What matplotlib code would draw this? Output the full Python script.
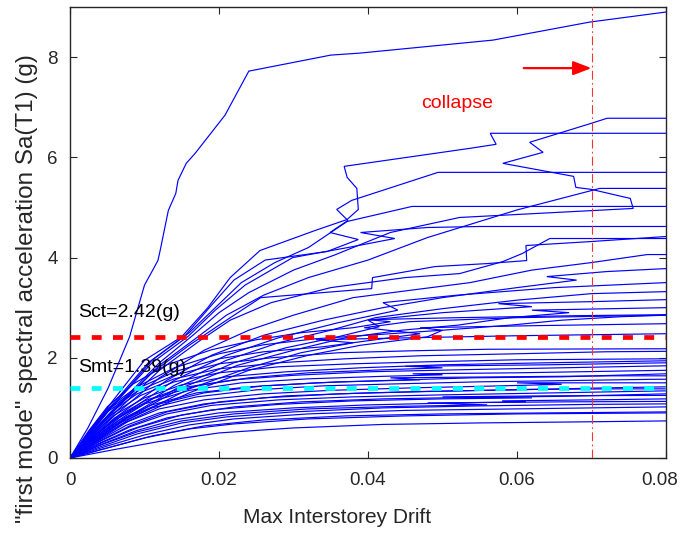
import matplotlib
matplotlib.use("Agg")
import matplotlib.pyplot as plt
import matplotlib.transforms as mtransforms

plt.rcParams['font.family'] = ['Liberation Sans', 'DejaVu Sans']

# IDA records: (max interstorey drift, Sa(T1) [g]) pairs, Sa increasing along each record
rec_steep = [(0, 0), (0.0024, 0.6), (0.0051, 1.39), (0.0080, 2.42), (0.0100, 3.45), (0.0118, 3.94),
             (0.0121, 4.14), (0.0132, 4.94), (0.0142, 5.28), (0.0145, 5.54), (0.0156, 5.88),
             (0.0168, 6.08), (0.0208, 6.84), (0.0240, 7.72), (0.0350, 8.04), (0.0389, 8.08),
             (0.0568, 8.34), (0.0698, 8.70), (0.0800, 8.90), (0.0850, 8.98)]
rec_u1 = [(0, 0), (0.005, 1.0), (0.010, 1.95), (0.0150, 2.42), (0.0185, 3.0), (0.0215, 3.6),
          (0.0255, 4.14), (0.0329, 4.54), (0.0372, 4.76), (0.0387, 4.96), (0.0385, 5.38),
          (0.0372, 5.6), (0.0368, 5.82), (0.0537, 6.18), (0.0572, 6.26), (0.0564, 6.48), (0.09, 6.48)]
rec_u2 = [(0, 0), (0.005, 0.95), (0.0105, 1.9), (0.0155, 2.45), (0.0190, 3.05), (0.0220, 3.55),
          (0.0262, 3.95), (0.0345, 4.12), (0.0387, 4.36), (0.0349, 4.5), (0.0373, 4.74),
          (0.0358, 4.96), (0.0378, 5.14), (0.0494, 5.70), (0.09, 5.70)]
rec_u3 = [(0, 0), (0.0055, 1.0), (0.011, 1.95), (0.0160, 2.5), (0.0195, 3.0), (0.0230, 3.5),
          (0.0275, 3.9), (0.0320, 4.2), (0.0372, 4.72), (0.0459, 5.02), (0.09, 5.02)]
rec_u4 = [(0, 0), (0.006, 1.0), (0.012, 1.9), (0.0165, 2.45), (0.0200, 2.9), (0.0240, 3.3),
          (0.0300, 3.75), (0.0355, 4.05), (0.0430, 4.5), (0.0523, 4.8), (0.0756, 4.98),
          (0.0752, 5.18), (0.0700, 5.36), (0.0679, 5.4), (0.0676, 5.62), (0.0581, 5.88),
          (0.0635, 6.1), (0.0617, 6.3), (0.0700, 6.68), (0.0721, 6.78), (0.09, 6.78)]
rec_u5 = [(0, 0), (0.006, 0.95), (0.012, 1.85), (0.0170, 2.4), (0.0210, 2.85), (0.0260, 3.25),
          (0.0320, 3.6), (0.0400, 3.95), (0.0480, 4.4), (0.0600, 4.95), (0.0711, 5.38), (0.09, 5.38)]
rec_u6 = [(0, 0), (0.006, 0.9), (0.012, 1.75), (0.0175, 2.35), (0.0215, 2.75), (0.0270, 3.1),
          (0.0350, 3.4), (0.0450, 3.6), (0.0523, 3.68), (0.0581, 3.92), (0.0607, 4.08),
          (0.0644, 4.38), (0.09, 4.38)]
rec_u7 = [(0, 0), (0.0055, 1.0), (0.011, 1.9), (0.0158, 2.42), (0.0195, 2.95), (0.0235, 3.45),
          (0.0299, 4.0), (0.0373, 4.2), (0.0436, 4.38), (0.0390, 4.5), (0.0480, 4.6),
          (0.0550, 4.62), (0.09, 4.62)]

rec_m1 = [(0, 0), (0.0055, 0.9), (0.011, 1.7), (0.016, 2.25), (0.0205, 2.7), (0.0256, 3.2),
          (0.0405, 3.38), (0.0406, 3.6), (0.0490, 3.82), (0.0560, 3.88), (0.0613, 3.94),
          (0.0612, 4.24), (0.0700, 4.32), (0.0800, 4.42), (0.09, 4.45)]
rec_m2 = [(0, 0), (0.006, 0.85), (0.012, 1.6), (0.018, 2.15), (0.024, 2.55), (0.030, 2.85),
          (0.038, 3.2), (0.0537, 3.5), (0.0620, 3.75), (0.0700, 3.9), (0.0775, 4.06), (0.09, 4.06)]
rec_m3 = [(0, 0), (0.0065, 0.85), (0.013, 1.55), (0.019, 2.05), (0.026, 2.45), (0.034, 2.75),
          (0.042, 3.0), (0.050, 3.2), (0.060, 3.4), (0.0680, 3.55), (0.0640, 3.62),
          (0.0720, 3.72), (0.0800, 3.78), (0.09, 3.8)]
rec_m4 = [(0, 0), (0.007, 0.85), (0.014, 1.55), (0.021, 2.05), (0.028, 2.4), (0.036, 2.7),
          (0.0440, 2.95), (0.0420, 3.1), (0.0520, 3.25), (0.0650, 3.4), (0.0800, 3.5), (0.09, 3.5)]
rec_m5 = [(0, 0), (0.007, 0.8), (0.014, 1.45), (0.021, 1.95), (0.028, 2.3), (0.035, 2.55),
          (0.0410, 2.8), (0.0500, 2.98), (0.0600, 3.15), (0.0700, 3.28), (0.0800, 3.32), (0.09, 3.35)]
rec_m6 = [(0, 0), (0.0075, 0.8), (0.015, 1.45), (0.022, 1.9), (0.029, 2.2), (0.0360, 2.42),
          (0.0415, 2.62), (0.0400, 2.75), (0.0500, 2.9), (0.0620, 3.02), (0.0575, 3.08),
          (0.0700, 3.12), (0.0800, 3.16), (0.09, 3.16)]
rec_m7 = [(0, 0), (0.0075, 0.78), (0.015, 1.4), (0.0225, 1.85), (0.030, 2.15), (0.037, 2.4),
          (0.0445, 2.55), (0.0520, 2.65), (0.0590, 2.8), (0.0670, 2.9), (0.0620, 2.95),
          (0.0800, 3.0), (0.09, 3.0)]
rec_m8 = [(0, 0), (0.008, 0.78), (0.016, 1.38), (0.024, 1.8), (0.031, 2.1), (0.038, 2.3),
          (0.0470, 2.48), (0.0395, 2.6), (0.0455, 2.72), (0.0600, 2.8), (0.0800, 2.85), (0.09, 2.86)]
rec_m9 = [(0, 0), (0.008, 0.75), (0.016, 1.3), (0.024, 1.75), (0.032, 2.05), (0.0390, 2.25),
          (0.0480, 2.42), (0.0500, 2.55), (0.0590, 2.65), (0.0660, 2.75), (0.0740, 2.82),
          (0.0800, 2.85), (0.09, 2.9)]

rec_l01 = [(0, 0), (0.006, 0.17), (0.012, 0.33), (0.020, 0.50), (0.030, 0.6), (0.042, 0.67),
           (0.055, 0.7), (0.068, 0.72), (0.080, 0.74), (0.09, 0.75)]
rec_l02 = [(0, 0), (0.005, 0.2), (0.010, 0.4), (0.016, 0.58), (0.022, 0.68), (0.032, 0.78),
           (0.045, 0.84), (0.060, 0.88), (0.080, 0.9), (0.09, 0.9)]
rec_l03 = [(0, 0), (0.005, 0.24), (0.010, 0.46), (0.016, 0.66), (0.022, 0.78), (0.032, 0.88),
           (0.045, 0.95), (0.060, 0.98), (0.070, 1.0), (0.080, 1.02), (0.09, 1.02)]
rec_l04 = [(0, 0), (0.004, 0.22), (0.009, 0.48), (0.015, 0.7), (0.021, 0.82), (0.030, 0.92),
           (0.042, 1.0), (0.055, 1.04), (0.070, 1.07), (0.080, 1.08), (0.09, 1.08)]
rec_l05 = [(0, 0), (0.004, 0.26), (0.009, 0.55), (0.014, 0.76), (0.020, 0.9), (0.030, 1.0),
           (0.040, 1.06), (0.052, 1.1), (0.0612, 1.12), (0.0580, 1.14), (0.0700, 1.16),
           (0.080, 1.18), (0.09, 1.18)]
rec_l06 = [(0, 0), (0.004, 0.3), (0.008, 0.56), (0.013, 0.8), (0.019, 0.96), (0.028, 1.07),
           (0.038, 1.14), (0.050, 1.18), (0.062, 1.2), (0.0500, 1.22), (0.0640, 1.24),
           (0.080, 1.25), (0.09, 1.25)]
rec_l07 = [(0, 0), (0.004, 0.33), (0.008, 0.62), (0.013, 0.88), (0.019, 1.05), (0.028, 1.16),
           (0.038, 1.22), (0.050, 1.26), (0.065, 1.3), (0.080, 1.34), (0.09, 1.34)]
rec_l08 = [(0, 0), (0.0035, 0.32), (0.0075, 0.65), (0.012, 0.9), (0.018, 1.08), (0.026, 1.2),
           (0.036, 1.28), (0.048, 1.33), (0.060, 1.36), (0.072, 1.4), (0.080, 1.42), (0.09, 1.42)]
rec_l09 = [(0, 0), (0.0035, 0.36), (0.007, 0.68), (0.012, 0.98), (0.018, 1.16), (0.026, 1.28),
           (0.035, 1.35), (0.046, 1.4), (0.058, 1.44), (0.066, 1.47), (0.0600, 1.5), (0.09, 1.5)]
rec_l10 = [(0, 0), (0.003, 0.34), (0.007, 0.72), (0.011, 1.0), (0.017, 1.22), (0.025, 1.36),
           (0.034, 1.44), (0.044, 1.48), (0.055, 1.52), (0.0690, 1.55), (0.0780, 1.57), (0.09, 1.58)]
rec_l11 = [(0, 0), (0.003, 0.38), (0.0065, 0.75), (0.011, 1.06), (0.017, 1.3), (0.024, 1.42),
           (0.033, 1.5), (0.043, 1.55), (0.0540, 1.6), (0.066, 1.62), (0.080, 1.68), (0.09, 1.68)]
rec_l12 = [(0, 0), (0.003, 0.4), (0.006, 0.76), (0.010, 1.08), (0.016, 1.35), (0.023, 1.5),
           (0.032, 1.58), (0.042, 1.63), (0.050, 1.66), (0.0460, 1.68), (0.060, 1.7),
           (0.080, 1.75), (0.09, 1.75)]
rec_l13 = [(0, 0), (0.003, 0.42), (0.006, 0.8), (0.010, 1.14), (0.015, 1.4), (0.022, 1.56),
           (0.030, 1.65), (0.040, 1.72), (0.052, 1.76), (0.066, 1.8), (0.080, 1.84), (0.09, 1.84)]
rec_l14 = [(0, 0), (0.0028, 0.44), (0.006, 0.86), (0.010, 1.2), (0.015, 1.46), (0.021, 1.62),
           (0.029, 1.72), (0.039, 1.8), (0.050, 1.86), (0.064, 1.9), (0.080, 1.94), (0.09, 1.94)]
rec_l15 = [(0, 0), (0.0028, 0.46), (0.0055, 0.86), (0.0095, 1.25), (0.014, 1.52), (0.020, 1.7),
           (0.028, 1.82), (0.038, 1.88), (0.048, 1.92), (0.060, 1.96), (0.080, 1.98), (0.09, 1.98)]
rec_l16 = [(0, 0), (0.0025, 0.45), (0.0055, 0.92), (0.009, 1.28), (0.014, 1.58), (0.020, 1.78),
           (0.028, 1.9), (0.037, 1.98), (0.047, 2.04), (0.060, 2.08), (0.072, 2.12), (0.09, 2.14)]
rec_l17 = [(0, 0), (0.0025, 0.48), (0.005, 0.92), (0.009, 1.33), (0.014, 1.65), (0.020, 1.88),
           (0.027, 2.0), (0.036, 2.1), (0.046, 2.14), (0.0560, 2.17), (0.080, 2.18), (0.09, 2.18)]
rec_l18 = [(0, 0), (0.0025, 0.5), (0.005, 0.95), (0.009, 1.38), (0.014, 1.72), (0.020, 1.98),
           (0.026, 2.12), (0.034, 2.22), (0.0380, 2.3), (0.0330, 2.36), (0.046, 2.4),
           (0.060, 2.44), (0.080, 2.48), (0.09, 2.48)]
rec_l19 = [(0, 0), (0.0025, 0.52), (0.005, 0.98), (0.009, 1.42), (0.014, 1.8), (0.020, 2.08),
           (0.026, 2.26), (0.033, 2.38), (0.041, 2.46), (0.0500, 2.55), (0.0470, 2.6),
           (0.062, 2.64), (0.080, 2.68), (0.09, 2.68)]
rec_l20 = [(0, 0), (0.0025, 0.54), (0.005, 1.02), (0.0085, 1.48), (0.013, 1.86), (0.019, 2.16),
           (0.025, 2.36), (0.031, 2.5), (0.038, 2.6), (0.0430, 2.72), (0.0400, 2.76),
           (0.052, 2.8), (0.068, 2.84), (0.080, 2.86), (0.09, 2.86)]
rec_l21 = [(0, 0), (0.0045, 0.28), (0.009, 0.52), (0.015, 0.74), (0.022, 0.88), (0.032, 0.98),
           (0.044, 1.03), (0.0560, 1.06), (0.0480, 1.1), (0.066, 1.12), (0.080, 1.13), (0.09, 1.13)]
rec_l22 = [(0, 0), (0.0035, 0.3), (0.008, 0.64), (0.013, 0.92), (0.020, 1.12), (0.029, 1.24),
           (0.040, 1.3), (0.0520, 1.34), (0.0620, 1.37), (0.0740, 1.38), (0.09, 1.38)]
rec_l23 = [(0, 0), (0.003, 0.36), (0.007, 0.76), (0.012, 1.08), (0.018, 1.3), (0.026, 1.44),
           (0.036, 1.52), (0.0470, 1.56), (0.0430, 1.6), (0.0580, 1.62), (0.0730, 1.64), (0.09, 1.64)]
rec_l24 = [(0, 0), (0.0045, 0.32), (0.009, 0.6), (0.015, 0.86), (0.022, 1.02), (0.031, 1.12),
           (0.042, 1.18), (0.054, 1.21), (0.066, 1.23), (0.080, 1.28), (0.09, 1.28)]
rec_l25 = [(0, 0), (0.003, 0.4), (0.0065, 0.82), (0.011, 1.18), (0.017, 1.44), (0.024, 1.6),
           (0.032, 1.7), (0.0420, 1.76), (0.0500, 1.8), (0.0450, 1.83), (0.0640, 1.86),
           (0.080, 1.9), (0.09, 1.9)]
rec_l26 = [(0, 0), (0.0055, 0.22), (0.011, 0.44), (0.018, 0.64), (0.026, 0.76), (0.037, 0.84),
           (0.050, 0.88), (0.064, 0.9), (0.080, 0.92), (0.09, 0.92)]

records = [rec_l01, rec_l02, rec_l03, rec_l04, rec_l05, rec_l06, rec_l07, rec_l08, rec_l09,
           rec_l10, rec_l11, rec_l12, rec_l13, rec_l14, rec_l15, rec_l16, rec_l17, rec_l18,
           rec_l19, rec_l20, rec_l21, rec_l22, rec_l23, rec_l24, rec_l25, rec_l26,
           rec_m1, rec_m2, rec_m3, rec_m4, rec_m5, rec_m6, rec_m7, rec_m8, rec_m9,
           rec_u1, rec_u2, rec_u3, rec_u4, rec_u5, rec_u6, rec_u7, rec_steep]

# Limit-state intensities and collapse drift
sa_ct = 2.42
sa_mt = 1.39
collapse_drift = 0.07
arrow_start = (0.0609, 7.78)
arrow_end = (0.0700, 7.78)

x_ticks = [0, 0.02, 0.04, 0.06, 0.08]
x_tick_labels = ["0", "0.02", "0.04", "0.06", "0.08"]
y_ticks = [0, 2, 4, 6, 8]
y_tick_labels = ["0", "2", "4", "6", "8"]

ink = "#262626"

fig = plt.figure(figsize=(6.8, 5.34), dpi=100)
ax = fig.add_axes([70 / 680, 1 - 458 / 534, 596 / 680, 451 / 534])

for rec in records:
    xs = [p[0] for p in rec]
    ys = [p[1] for p in rec]
    ax.plot(xs, ys, color="#0000ff", lw=0.85, solid_joinstyle="miter")

ax.axhline(sa_ct, color="#ff0000", lw=3.4, linestyle=(0, (2.1, 2.4)), zorder=5)
ax.axhline(sa_mt, color="#00ffff", lw=3.4, linestyle=(0, (2.1, 2.4)), zorder=5)
ax.axvline(collapse_drift, color="#ff3030", lw=0.8, linestyle=(0, (8, 3, 1.5, 3)), zorder=5)

ax.annotate("", xy=arrow_end, xytext=arrow_start,
            arrowprops=dict(arrowstyle="-|>,head_length=1.1,head_width=0.42",
                            color="#ff0000", lw=1.6, shrinkA=0, shrinkB=0))
ax.text(0.052, 7.08, "collapse", color="#ff0000", fontsize=14, ha="center", va="center")
ax.text(0.0011, 2.9, "Sct=2.42(g)", color="black", fontsize=14, ha="left", va="center", zorder=6)
ax.text(0.0011, 1.8, "Smt=1.39(g)", color="black", fontsize=14, ha="left", va="center", zorder=6)

ax.set_xlim(0, 0.08)
ax.set_ylim(0, 9)
ax.set_xticks(x_ticks)
ax.set_xticklabels(x_tick_labels)
ax.set_yticks(y_ticks)
ax.set_yticklabels(y_tick_labels)
ax.tick_params(direction="in", length=5, width=0.8, color=ink, labelsize=13.5,
               top=True, right=True, labelcolor=ink)
ax.tick_params(axis="x", pad=10)
ax.tick_params(axis="y", pad=9)
for sp in ax.spines.values():
    sp.set_color(ink)
    sp.set_linewidth(1.0)

# keep the last x tick label inside the canvas
last_lbl = ax.get_xticklabels()[-1]
last_lbl.set_transform(last_lbl.get_transform() +
                       mtransforms.ScaledTranslation(-6 / 100, 0, fig.dpi_scale_trans))

fig.text(337 / 680, 1 - 523 / 534, "Max Interstorey Drift", fontsize=15, color=ink,
         ha="center", va="baseline")
fig.text(33 / 680, 1 - 289 / 534, '"first mode" spectral acceleration Sa(T1) (g)', fontsize=17.5,
         color=ink, rotation=90, rotation_mode="anchor", ha="center", va="baseline")

fig.savefig("out.png", dpi=100)
